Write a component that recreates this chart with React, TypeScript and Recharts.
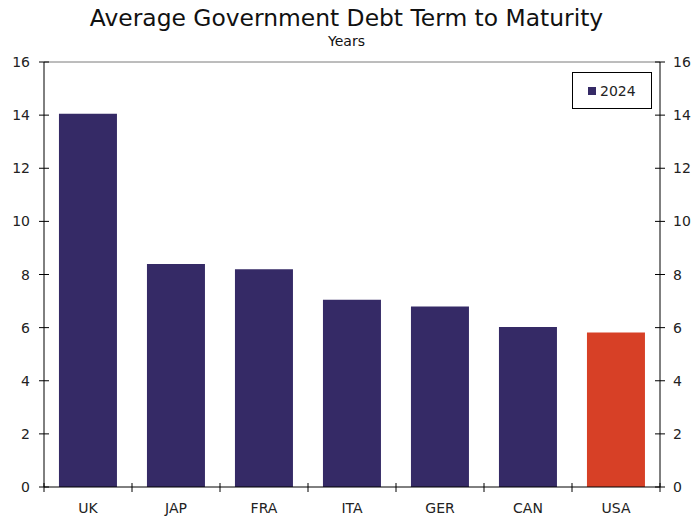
import React from "react";
import { ComposedChart, Bar, Line, XAxis, YAxis, Cell, ReferenceLine } from "recharts";

const categories = ["UK", "JAP", "FRA", "ITA", "GER", "CAN", "USA"];
const values2024 = [14.05, 8.4, 8.2, 7.05, 6.8, 6.02, 5.82];
const highlighted = ["USA"];
const yTicks = [0, 2, 4, 6, 8, 10, 12, 14, 16];
const seriesName = "2024";

const data = categories.map((c, i) => ({ name: c, v: values2024[i] }));

const W = 693;
const H = 518;
const LEFT_W = 44;
const RIGHT_W = 33;
const PLOT_W = W - LEFT_W - RIGHT_W;
const BAND = PLOT_W / categories.length;
const PURPLE = "#352a66";
const RED = "#d74026";
const FONT = "'DejaVu Sans', Verdana, sans-serif";

const LeftTick = (p: any) => (
  <g>
    <line x1={p.x - 5} x2={p.x + 5} y1={p.y} y2={p.y} stroke="#000" />
    <text x={p.x - 14} y={p.y} dy={5} textAnchor="end" fontSize={14} fontFamily={FONT} fill="#222">
      {p.payload.value}
    </text>
  </g>
);

const RightTick = (p: any) => (
  <g>
    <line x1={p.x - 5} x2={p.x + 5} y1={p.y} y2={p.y} stroke="#000" />
    <text x={p.x + 13} y={p.y} dy={5} textAnchor="start" fontSize={14} fontFamily={FONT} fill="#222">
      {p.payload.value}
    </text>
  </g>
);

const BottomTick = (p: any) => (
  <g>
    <line x1={p.x - BAND / 2} x2={p.x - BAND / 2} y1={p.y - 4} y2={p.y + 5} stroke="#000" />
    {p.index === categories.length - 1 ? (
      <line x1={p.x + BAND / 2} x2={p.x + BAND / 2} y1={p.y - 4} y2={p.y + 5} stroke="#000" />
    ) : null}
    <text x={p.x} y={p.y} dy={26} textAnchor="middle" fontSize={14} fontFamily={FONT} fill="#222">
      {p.payload.value}
    </text>
  </g>
);

const LegendBox = () => (
  <div
    style={{
      position: "absolute",
      left: 572,
      top: 72,
      border: "1px solid #000",
      width: 80,
      height: 37,
      boxSizing: "border-box",
      display: "flex",
      alignItems: "center",
      paddingLeft: 15,
      fontFamily: FONT,
      fontSize: 14,
      color: "#222",
      background: "#fff",
    }}
  >
    <span style={{ display: "inline-block", width: 8, height: 8, background: PURPLE, marginRight: 4 }} />
    <span>{seriesName}</span>
  </div>
);

export default function App() {
  return (
    <div style={{ position: "absolute", left: 0, top: 0, width: W, height: H, background: "#fff" }}>
      <div
        style={{
          position: "absolute",
          left: 0,
          top: 4,
          width: W,
          textAlign: "center",
          fontFamily: FONT,
          fontSize: 23.4,
          color: "#111",
        }}
      >
        Average Government Debt Term to Maturity
      </div>
      <div
        style={{
          position: "absolute",
          left: 0,
          top: 33,
          width: W,
          textAlign: "center",
          fontFamily: FONT,
          fontSize: 14,
          color: "#111",
        }}
      >
        Years
      </div>
      <ComposedChart
        width={W}
        height={H}
        data={data}
        margin={{ top: 62, right: 0, left: 0, bottom: 0 }}
        barCategoryGap="17%"
      >
        <XAxis
          dataKey="name"
          height={31}
          tickSize={0}
          tickMargin={0}
          tickLine={false}
          axisLine={{ stroke: "#000" }}
          tick={BottomTick}
          interval={0}
        />
        <YAxis
          yAxisId="left"
          width={LEFT_W}
          type="number"
          domain={[0, 16]}
          ticks={yTicks}
          tickSize={0}
          tickMargin={0}
          tickLine={false}
          axisLine={{ stroke: "#000" }}
          tick={LeftTick}
          interval={0}
        />
        <YAxis
          yAxisId="right"
          orientation="right"
          width={RIGHT_W}
          type="number"
          domain={[0, 16]}
          allowDataOverflow
          ticks={yTicks}
          tickSize={0}
          tickMargin={0}
          tickLine={false}
          axisLine={{ stroke: "#000" }}
          tick={RightTick}
          interval={0}
        />
        <ReferenceLine yAxisId="left" y={16} stroke="#7a7a7a" />
        <Bar yAxisId="left" dataKey="v" name={seriesName} isAnimationActive={false}>
          {data.map((d) => (
            <Cell key={d.name} fill={highlighted.includes(d.name) ? RED : PURPLE} />
          ))}
        </Bar>
        <Line
          yAxisId="right"
          dataKey="v"
          stroke="none"
          dot={false}
          activeDot={false}
          legendType="none"
          isAnimationActive={false}
        />
      </ComposedChart>
      <LegendBox />
    </div>
  );
}
